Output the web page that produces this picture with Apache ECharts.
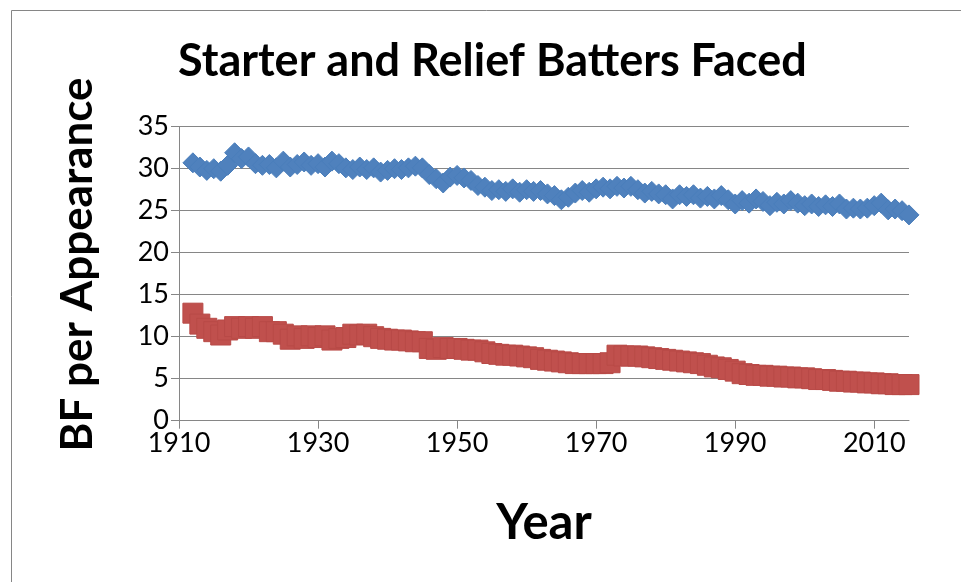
<!DOCTYPE html>
<html>
<head>
<meta charset="utf-8">
<script src="https://cdn.jsdelivr.net/npm/echarts@6/dist/echarts.min.js"></script>
<style>
html,body{margin:0;padding:0;background:#fff;}
#chart{width:961px;height:582px;}
</style>
</head>
<body>
<div id="chart"></div>
<script>
var years = [];
for (var y = 1912; y <= 2015; y++) years.push(y);

var starterBF = [
30.7,30.2,29.8,30.0,29.7,30.4,31.9,31.2,31.4,30.6,
30.4,30.5,30.1,30.9,30.2,30.5,30.8,30.4,30.6,30.2,
30.9,30.6,30.1,29.9,30.2,29.9,30.1,29.6,29.8,30.0,
29.9,30.1,30.3,30.1,29.3,28.8,28.3,29.0,29.2,28.9,
28.6,28.0,27.8,27.4,27.5,27.3,27.6,27.2,27.5,27.3,
27.4,27.0,26.8,26.3,26.6,27.1,27.4,27.2,27.6,27.8,
27.6,27.9,27.7,27.9,27.5,27.1,27.3,27.0,26.9,26.4,
26.9,26.7,26.9,26.5,26.7,26.4,26.8,26.3,25.8,26.2,
25.9,26.4,26.1,25.6,26.0,25.8,26.2,25.9,25.6,25.8,
25.5,25.7,25.5,25.8,25.2,25.3,25.2,25.3,25.6,25.9,
25.1,25.2,25.0,24.5
];

var reliefBF = [
12.8,11.5,11.0,10.6,10.2,10.8,11.2,11.0,11.2,11.0,
11.2,10.6,10.6,10.3,9.7,10.1,9.8,10.1,9.9,10.1,
9.6,9.8,9.9,10.3,10.2,10.3,10.0,9.8,9.7,9.6,
9.6,9.5,9.4,9.4,8.6,8.5,8.7,8.6,8.6,8.5,
8.4,8.4,8.2,8.0,7.9,7.8,7.8,7.7,7.6,7.5,
7.3,7.2,7.1,7.0,6.9,6.8,6.8,6.8,6.8,6.8,
6.9,7.8,7.7,7.7,7.7,7.6,7.5,7.4,7.3,7.2,
7.1,7.0,6.9,6.8,6.6,6.4,6.3,6.1,5.9,5.6,
5.5,5.4,5.4,5.3,5.3,5.2,5.2,5.1,5.1,5.0,
4.9,4.9,4.8,4.7,4.7,4.6,4.6,4.5,4.5,4.4,
4.4,4.3,4.3,4.3
];

var xTicks = [1910, 1930, 1950, 1970, 1990, 2010];
var yTicks = [0, 5, 10, 15, 20, 25, 30, 35];

function pairs(xs, vs) {
  return xs.map(function (x, i) { return [x, vs[i]]; });
}

var FONT = 'Lato, "Open Sans", sans-serif';
var chart = echarts.init(document.getElementById('chart'), null, {renderer: 'canvas'});
chart.setOption({
  backgroundColor: '#ffffff',
  animation: false,
  title: {
    text: 'Starter and Relief Batters Faced',
    left: 173,
    top: 34,
    textStyle: {fontFamily: FONT, fontWeight: 'bold', fontSize: 45, color: '#000'}
  },
  graphic: [{
    type: 'rect',
    shape: {x: 11.5, y: 10.5, width: 960, height: 600},
    style: {fill: 'none', stroke: '#868686', lineWidth: 1},
    silent: true
  }, {
    type: 'text',
    x: 78,
    y: 264.5,
    rotation: Math.PI / 2,
    style: {
      text: 'BF per Appearance',
      fontFamily: FONT, fontWeight: 'bold', fontSize: 44, fill: '#000',
      textAlign: 'center', textVerticalAlign: 'middle'
    },
    silent: true
  }],
  grid: {left: 179, right: 52, top: 126.7, bottom: 161.3, containLabel: false},
  xAxis: {
    type: 'value',
    min: 1910,
    max: 2015,
    interval: 20,
    name: 'Year',
    nameLocation: 'middle',
    nameGap: 78,
    nameTextStyle: {fontFamily: FONT, fontWeight: 'bold', fontSize: 49, color: '#000'},
    axisLine: {show: true, lineStyle: {color: '#868686', width: 1}},
    axisTick: {show: true, inside: false, length: 8, lineStyle: {color: '#868686'}},
    splitLine: {show: false},
    axisLabel: {
      fontFamily: FONT, fontSize: 27, color: '#000', margin: 9,
      showMaxLabel: false,
      formatter: function (v) { return xTicks.indexOf(v) >= 0 ? String(v) : ''; }
    }
  },
  yAxis: {
    type: 'value',
    min: 0,
    max: 35,
    interval: 5,
    axisLine: {show: true, lineStyle: {color: '#868686', width: 1}},
    axisTick: {show: true, inside: false, length: 8, lineStyle: {color: '#868686'}},
    splitLine: {show: true, lineStyle: {color: '#868686', width: 1}},
    axisLabel: {
      fontFamily: FONT, fontSize: 27, color: '#000', margin: 10, align: 'right',
      formatter: function (v) { return yTicks.indexOf(v) >= 0 ? String(v) : ''; }
    }
  },
  series: [
    {
      name: 'Starter',
      type: 'scatter',
      symbol: 'diamond',
      symbolSize: 20,
      clip: false,
      itemStyle: {color: '#4f81bd', borderColor: '#4a7ebb', borderWidth: 1, opacity: 1},
      data: pairs(years, starterBF)
    },
    {
      name: 'Relief',
      type: 'scatter',
      symbol: 'rect',
      symbolSize: 20,
      clip: false,
      itemStyle: {color: '#c0504d', borderColor: '#b84a47', borderWidth: 1, opacity: 1},
      data: pairs(years, reliefBF)
    }
  ]
});
</script>
</body>
</html>
